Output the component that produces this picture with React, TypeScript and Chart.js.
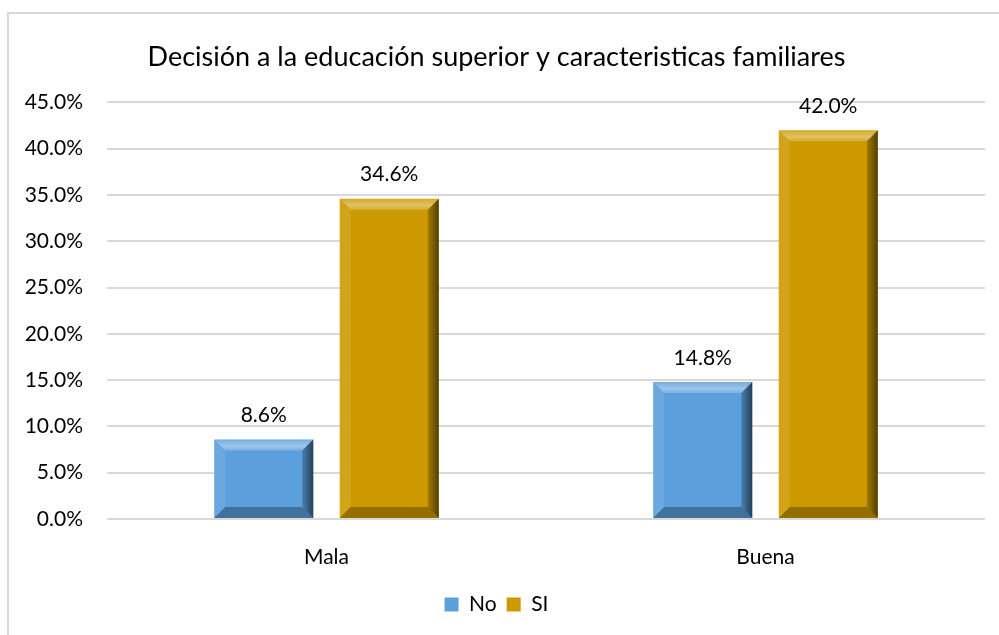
import React, { useEffect, useRef } from "react";
import { Chart, registerables } from "chart.js";
Chart.register(...registerables);

const titleText = "Decisión a la educación superior y caracteristicas familiares";
const categories = ["Mala", "Buena"];
const seriesNames = ["No", "SI"];
const valuesNo = [8.6, 14.8];
const valuesSI = [34.6, 42.0];
const yMin = 0;
const yMax = 45;
const yStep = 5;

const FONT = "Lato, 'Noto Sans', sans-serif";

const bevelPlugin = {
  id: "bevel",
  afterDatasetsDraw(chart: any) {
    const ctx = chart.ctx as CanvasRenderingContext2D;
    const poly = (pts: number[][], fill: any) => {
      ctx.beginPath();
      ctx.moveTo(pts[0][0], pts[0][1]);
      for (let i = 1; i < pts.length; i++) ctx.lineTo(pts[i][0], pts[i][1]);
      ctx.closePath();
      ctx.fillStyle = fill;
      ctx.fill();
    };
    ctx.save();
    chart.data.datasets.forEach((_: any, i: number) => {
      const meta = chart.getDatasetMeta(i);
      meta.data.forEach((bar: any) => {
        const { x, y, base, width } = bar.getProps(["x", "y", "base", "width"], true);
        const l = x - width / 2, r = x + width / 2, t = y, b = base;
        const s = Math.min(11, (b - t) / 2);
        const gt = ctx.createLinearGradient(0, t, 0, t + s);
        gt.addColorStop(0, "rgba(255,255,255,0.15)");
        gt.addColorStop(0.6, "rgba(255,255,255,0.4)");
        gt.addColorStop(1, "rgba(255,255,255,0.2)");
        poly([[l, t], [r, t], [r - s, t + s], [l + s, t + s]], gt);
        poly([[l, t], [l + s, t + s], [l + s, b - s], [l, b]], "rgba(255,255,255,0.10)");
        const gr = ctx.createLinearGradient(r - s, 0, r, 0);
        gr.addColorStop(0, "rgba(0,0,0,0.2)");
        gr.addColorStop(1, "rgba(0,0,0,0.6)");
        poly([[r, t], [r, b], [r - s, b - s], [r - s, t + s]], gr);
        poly([[l, b], [l + s, b - s], [r - s, b - s], [r, b]], "rgba(0,0,0,0.28)");
      });
    });
    ctx.restore();
  },
};

const labelPlugin = {
  id: "valueLabels",
  afterDatasetsDraw(chart: any) {
    const ctx = chart.ctx as CanvasRenderingContext2D;
    ctx.save();
    ctx.font = `21px ${FONT}`;
    ctx.fillStyle = "#000";
    ctx.textAlign = "center";
    ctx.textBaseline = "middle";
    chart.data.datasets.forEach((ds: any, i: number) => {
      const meta = chart.getDatasetMeta(i);
      meta.data.forEach((bar: any, j: number) => {
        const v = ds.data[j] as number;
        ctx.fillText(`${v.toFixed(1)}%`, bar.x, bar.y - 24);
      });
    });
    ctx.restore();
  },
};

export default function App() {
  const ref = useRef<HTMLCanvasElement>(null);
  useEffect(() => {
    const chart = new Chart(ref.current!, {
      type: "bar",
      data: {
        labels: categories,
        datasets: [
          { label: seriesNames[0], data: valuesNo, backgroundColor: "#5b9fdc", borderWidth: 0 },
          { label: seriesNames[1], data: valuesSI, backgroundColor: "#cc9a00", borderWidth: 0 },
        ],
      },
      options: {
        animation: false,
        responsive: false,
        maintainAspectRatio: false,
        layout: { padding: { left: 8, right: 14, top: 13, bottom: 10 } },
        datasets: { bar: { barPercentage: 0.789, categoryPercentage: 0.572 } } as any,
        plugins: {
          title: {
            display: true,
            text: titleText,
            color: "#000",
            font: { family: FONT, size: 27, weight: "normal" },
            padding: { top: 28, bottom: 29 },
          },
          legend: {
            position: "bottom",
            labels: {
              color: "#000",
              font: { family: FONT, size: 21 },
              boxWidth: 14,
              boxHeight: 14,
              padding: 10,
            },
          },
          tooltip: { enabled: false },
        },
        scales: {
          x: {
            afterFit: (scale: any) => { scale.height = 65; },
            grid: { display: false, drawTicks: false },
            border: { display: false },
            ticks: { color: "#000", font: { family: FONT, size: 21 }, padding: 26 },
          },
          y: {
            min: yMin,
            max: yMax,
            afterFit: (scale: any) => { scale.width = 99; },
            grid: { color: "#d9d9d9", lineWidth: 2, drawTicks: false },
            border: { display: false },
            ticks: {
              stepSize: yStep,
              color: "#000",
              font: { family: FONT, size: 21 },
              padding: 24,
              callback: (v: any) => `${Number(v).toFixed(1)}%`,
            },
          },
        },
      },
      plugins: [bevelPlugin, labelPlugin],
    });
    return () => chart.destroy();
  }, []);
  return (
    <div>
      <div style={{ position: "absolute", left: 7, top: 12, width: 992, height: 623, borderLeft: "2px solid #d9d9d9", borderTop: "2px solid #d9d9d9", boxSizing: "border-box" }} />
      <canvas ref={ref} width={999} height={635} style={{ position: "absolute", left: 0, top: 0 }} />
    </div>
  );
}
